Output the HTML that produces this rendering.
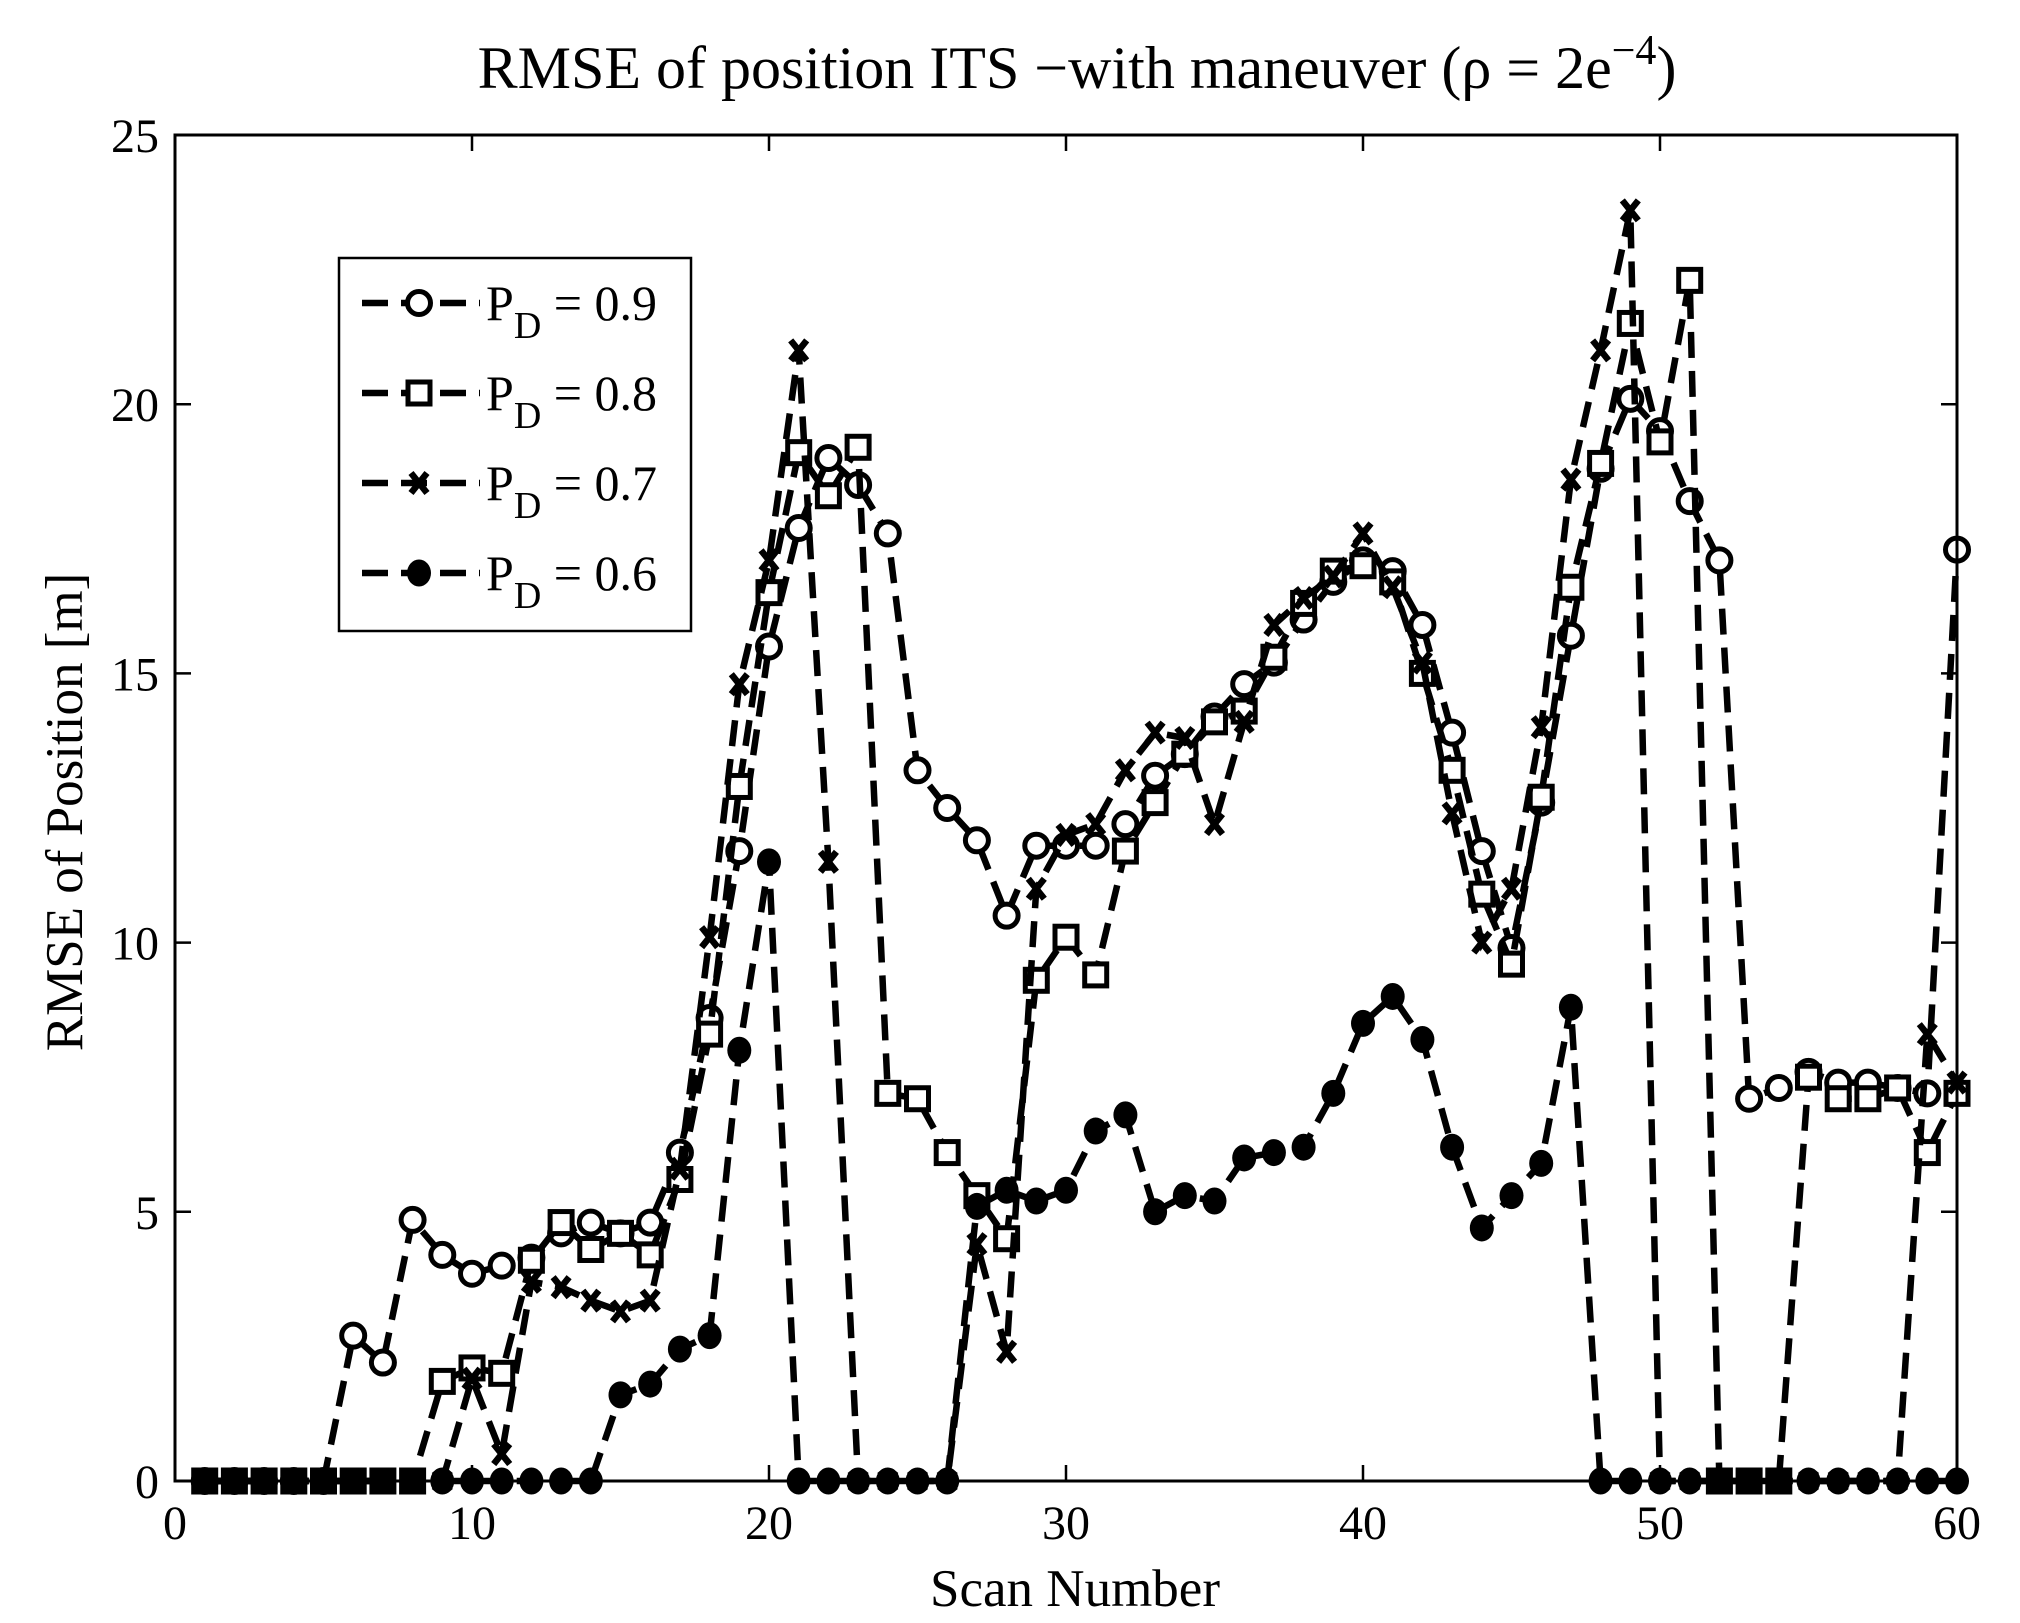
<!DOCTYPE html><html><head><style>body{margin:0;background:#fff}svg{display:block}text{font-family:"Liberation Serif",serif;fill:#000}</style></head><body>
<svg id="s" width="2020" height="1623" xmlns="http://www.w3.org/2000/svg"></svg>
<script>
const X0=175,X1=1957,Y0=1481,Y1=135;
const sx=v=>X0+(X1-X0)*v/60, sy=v=>Y0-(Y0-Y1)*v/25;
const d9=[0,0,0,0,0,2.7,2.2,4.85,4.2,3.85,4.0,4.15,4.6,4.8,4.6,4.8,6.1,8.6,11.7,15.5,17.7,19.0,18.5,17.6,13.2,12.5,11.9,10.5,11.8,11.8,11.8,12.2,13.1,13.5,14.2,14.8,15.2,16.0,16.7,17.1,16.9,15.9,13.9,11.7,9.9,12.6,15.7,18.8,20.1,19.5,18.2,17.1,7.1,7.3,7.6,7.4,7.4,7.3,7.2,17.3];
const d8=[0,0,0,0,0,0,0,0,1.85,2.1,2.0,4.1,4.8,4.3,4.6,4.2,5.6,8.3,12.9,16.5,19.1,18.3,19.2,7.2,7.1,6.1,5.3,4.5,9.3,10.1,9.4,11.7,12.6,13.5,14.1,14.3,15.3,16.3,16.9,17.0,16.7,15.0,13.2,10.9,9.6,12.7,16.6,18.9,21.5,19.3,22.3,0,0,0,7.5,7.1,7.1,7.3,6.1,7.2];
const d7=[0,0,0,0,0,0,0,0,0,1.9,0.5,3.7,3.6,3.35,3.15,3.35,5.8,10.1,14.8,17.1,21.0,11.5,0,0,0,0,4.4,2.4,11.0,12.0,12.2,13.2,13.9,13.8,12.2,14.1,15.9,16.4,16.8,17.6,16.6,15.2,12.4,10.0,11.0,14.0,18.6,21.0,23.6,0,0,0,0,0,0,0,0,0,8.3,7.4];
const d6=[0,0,0,0,0,0,0,0,0,0,0,0,0,0,1.6,1.8,2.45,2.7,8.0,11.5,0,0,0,0,0,0,5.1,5.4,5.2,5.4,6.5,6.8,5.0,5.3,5.2,6.0,6.1,6.2,7.2,8.5,9.0,8.2,6.2,4.7,5.3,5.9,8.8,0,0,0,0,0,0,0,0,0,0,0,0,0];
let h='';
const line=d=>'<polyline fill="none" stroke="#000" stroke-width="6.5" stroke-dasharray="26 13" points="'+d.map((v,i)=>sx(i+1)+','+sy(v)).join(' ')+'"/>';
function mk(t,x,y){
 if(t==9)return `<circle cx="${x}" cy="${y}" r="11.5" fill="#fff" stroke="#000" stroke-width="5"/>`;
 if(t==8)return `<rect x="${x-11}" y="${y-11}" width="22" height="22" fill="#fff" stroke="#000" stroke-width="5"/>`;
 if(t==7)return `<path d="M${x-8} ${y-10}L${x+8} ${y+10}M${x+8} ${y-10}L${x-8} ${y+10}" stroke="#000" stroke-width="6.5"/>`;
 return `<ellipse cx="${x}" cy="${y}" rx="12" ry="13.5" fill="#000"/>`;
}
[[d9,9],[d8,8],[d7,7],[d6,6]].forEach(([d,t])=>{h+=line(d);d.forEach((v,i)=>h+=mk(t,sx(i+1),sy(v)));});
h+=`<rect x="${X0}" y="${Y1}" width="${X1-X0}" height="${Y0-Y1}" fill="none" stroke="#000" stroke-width="3"/>`;
for(let v=0;v<=60;v+=10){let x=sx(v);h+=`<path d="M${x} ${Y0}v-16M${x} ${Y1}v16" stroke="#000" stroke-width="2.5"/><text x="${x}" y="${Y0+58}" font-size="48" text-anchor="middle">${v}</text>`;}
for(let v=0;v<=25;v+=5){let y=sy(v);h+=`<path d="M${X0} ${y}h16M${X1} ${y}h-16" stroke="#000" stroke-width="2.5"/><text x="${X0-16}" y="${y+17}" font-size="48" text-anchor="end">${v}</text>`;}
h+=`<text x="1077" y="88" font-size="60" text-anchor="middle">RMSE of position ITS −with maneuver (ρ = 2e<tspan dy="-24" font-size="42">−4</tspan><tspan dy="24">)</tspan></text>`;
h+=`<text x="1075" y="1606" font-size="53" text-anchor="middle">Scan Number</text>`;
h+=`<text transform="translate(82 812) rotate(-90)" font-size="53" text-anchor="middle">RMSE of Position [m]</text>`;
h+=`<rect x="339" y="258" width="352" height="373" fill="#fff" stroke="#000" stroke-width="2.5"/>`;
[[9,303,'0.9'],[8,393,'0.8'],[7,483,'0.7'],[6,573,'0.6']].forEach(([t,y,l])=>{
 h+=`<path d="M362 ${y}H480" stroke="#000" stroke-width="6.5" stroke-dasharray="26 13"/>`+mk(t,419,y)+`<text x="486" y="${y+17}" font-size="50">P<tspan dy="18" font-size="38">D</tspan><tspan dy="-18"> = ${l}</tspan></text>`;
});
document.getElementById('s').innerHTML=h;
</script></body></html>
